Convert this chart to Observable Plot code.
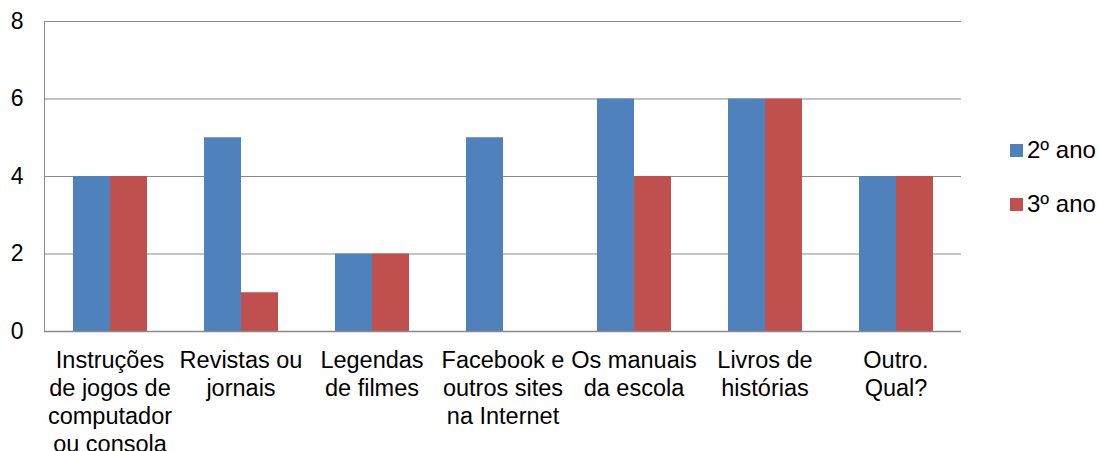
<!DOCTYPE html>
<html>
<head>
<meta charset="utf-8">
<script src="https://cdn.jsdelivr.net/npm/d3@7"></script>
<script src="https://cdn.jsdelivr.net/npm/@observablehq/plot@0.6"></script>
<style>
  html, body { margin: 0; padding: 0; background: #fff; }
  #wrap { position: relative; width: 1099px; height: 451px; font-family: "Liberation Sans", Arial, sans-serif; }
  #wrap svg text { fill: #000; }
  .leg { position: absolute; display: flex; align-items: center; font-size: 24px; color: #000; line-height: 1; white-space: nowrap; }
  .leg span.sw { display: inline-block; width: 13px; height: 13px; margin-right: 4px; }
</style>
</head>
<body>
<div id="wrap"></div>
<script>
const categories = [
  "Instruções\nde jogos de\ncomputador\nou consola",
  "Revistas ou\njornais",
  "Legendas\nde filmes",
  "Facebook e\noutros sites\nna Internet",
  "Os manuais\nda escola",
  "Livros de\nhistórias",
  "Outro.\nQual?"
];
const series = ["2º ano", "3º ano"];
const ano2 = [4, 5, 2, 5, 6, 6, 4];
const ano3 = [4, 1, 2, 0, 4, 6, 4];
const yTicks = [0, 2, 4, 6, 8];
const colors = ["#4F81BD", "#C0504D"];

const data = [];
categories.forEach((c, i) => {
  data.push({cat: c, series: series[0], value: ano2[i]});
  data.push({cat: c, series: series[1], value: ano3[i]});
});

const chart = Plot.plot({
  width: 1099,
  height: 451,
  marginLeft: 44,
  marginRight: 138,
  marginTop: 21,
  marginBottom: 120,
  style: {fontFamily: "'Liberation Sans', Arial, sans-serif", fontSize: "23px", color: "#898989", background: "#fff"},
  fx: {domain: categories, padding: 0, axis: null},
  x: {domain: series, axis: null, paddingInner: 0, paddingOuter: 0.77},
  y: {domain: [0, 8], ticks: yTicks, tickSize: 0, tickPadding: 21, label: null, line: true},
  color: {domain: series, range: colors},
  marks: [
    Plot.gridY(yTicks.filter(d => d > 0), {stroke: "#898989", strokeOpacity: 1, strokeWidth: 1.2}),
    Plot.barY(data.filter(d => d.value > 0), {fx: "cat", x: "series", y: "value", fill: "series"}),
    Plot.ruleY([0], {stroke: "#898989", strokeWidth: 1.5}),
    Plot.text(categories, {fx: d => d, text: d => d, frameAnchor: "bottom", lineAnchor: "top", dy: 17, lineHeight: 1.19, fontSize: 23.5, fill: "#000"})
  ]
});

const wrap = document.getElementById("wrap");
wrap.appendChild(chart);

const legTops = [150, 204];
series.forEach((s, i) => {
  const d = document.createElement("div");
  d.className = "leg";
  d.style.left = "1010px";
  d.style.top = (legTops[i] - 11) + "px";
  d.style.height = "22px";
  d.innerHTML = `<span class="sw" style="background:${colors[i]}"></span>${s}`;
  wrap.appendChild(d);
});
</script>
</body>
</html>
